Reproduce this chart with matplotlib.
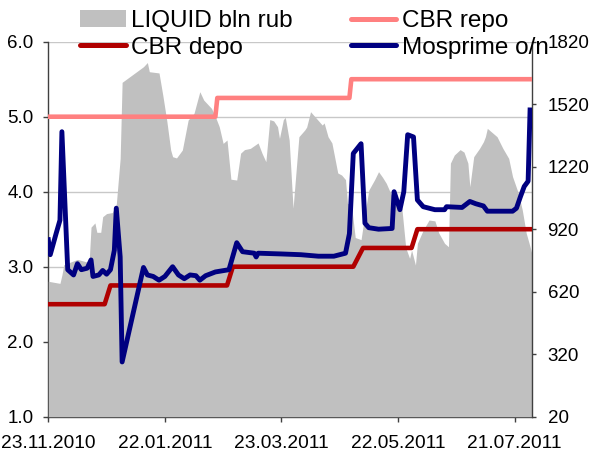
import matplotlib
matplotlib.use("Agg")
import matplotlib.pyplot as plt
import matplotlib.dates as mdates
from matplotlib.patches import Patch
from matplotlib.lines import Line2D
import pandas as pd

plt.rcParams['font.family'] = ['Liberation Sans', 'DejaVu Sans']

# ---------------- data ----------------
liq_dates = ["2010-11-23", "2010-11-26", "2010-11-29", "2010-11-30", "2010-12-01", "2010-12-08",
             "2010-12-14", "2010-12-15", "2010-12-17", "2010-12-18", "2010-12-20", "2010-12-21",
             "2010-12-23", "2010-12-26", "2010-12-28", "2010-12-29", "2010-12-30", "2010-12-31",
             "2011-01-11", "2011-01-13", "2011-01-14", "2011-01-19", "2011-01-21", "2011-01-23",
             "2011-01-25", "2011-01-26", "2011-01-28", "2011-01-31", "2011-02-03", "2011-02-06",
             "2011-02-09", "2011-02-11", "2011-02-15", "2011-02-17", "2011-02-19", "2011-02-21",
             "2011-02-23", "2011-02-25", "2011-02-28", "2011-03-02", "2011-03-04", "2011-03-07",
             "2011-03-11", "2011-03-13", "2011-03-15", "2011-03-17", "2011-03-19", "2011-03-21",
             "2011-03-22", "2011-03-24", "2011-03-25", "2011-03-27", "2011-03-29", "2011-04-01",
             "2011-04-04", "2011-04-05", "2011-04-07", "2011-04-10", "2011-04-13", "2011-04-14",
             "2011-04-16", "2011-04-18", "2011-04-21", "2011-04-23", "2011-04-25", "2011-04-26",
             "2011-04-28", "2011-04-30", "2011-05-03", "2011-05-05", "2011-05-07", "2011-05-10",
             "2011-05-12", "2011-05-14", "2011-05-16", "2011-05-19", "2011-05-22", "2011-05-24",
             "2011-05-26", "2011-05-28", "2011-05-29", "2011-05-31", "2011-06-01", "2011-06-04",
             "2011-06-07", "2011-06-10", "2011-06-12", "2011-06-15", "2011-06-17", "2011-06-18",
             "2011-06-20", "2011-06-23", "2011-06-25", "2011-06-27", "2011-06-28", "2011-06-30",
             "2011-07-03", "2011-07-05", "2011-07-06", "2011-07-07", "2011-07-10", "2011-07-12",
             "2011-07-15", "2011-07-18", "2011-07-20", "2011-07-23", "2011-07-25", "2011-07-27",
             "2011-07-29", "2011-07-30"]
liq_values = [670, 665, 660, 700, 750, 775,
              760, 930, 950, 905, 905, 980,
              995, 1000, 1040, 1150, 1260, 1625,
              1700, 1720, 1676, 1670, 1560, 1440,
              1300, 1268, 1262, 1300, 1444, 1476,
              1580, 1540, 1500, 1460, 1412, 1332,
              1348, 1160, 1156, 1285, 1302, 1308,
              1334, 1285, 1244, 1446, 1440, 1412,
              1356, 1446, 1457, 1348, 1021, 1364,
              1396, 1410, 1484, 1452, 1420, 1430,
              1364, 1334, 1190, 1180, 1158, 1044,
              1040, 880, 870, 996, 1108, 1158,
              1196, 1170, 1140, 1076, 1040, 1021,
              831, 780, 820, 748, 852, 916,
              964, 960, 902, 852, 836, 1237,
              1276, 1302, 1290, 1237, 1124, 1268,
              1308, 1340, 1364, 1404, 1380, 1364,
              1308, 1260, 1172, 1092, 1012, 902,
              836, 800]

repo_dates = ["2010-11-23", "2011-02-17", "2011-02-18", "2011-04-27", "2011-04-28", "2011-07-30"]
repo_values = [5.0, 5.0, 5.25, 5.25, 5.5, 5.5]

depo_dates = ["2010-11-23", "2010-12-22", "2010-12-25", "2011-02-23", "2011-02-26", "2011-04-29",
              "2011-05-04", "2011-05-29", "2011-06-01", "2011-07-30"]
depo_values = [2.5, 2.5, 2.75, 2.75, 3.0, 3.0, 3.25, 3.25, 3.5, 3.5]

mos_dates = ["2010-11-23", "2010-11-24", "2010-11-27", "2010-11-29", "2010-11-30", "2010-12-03",
             "2010-12-06", "2010-12-08", "2010-12-10", "2010-12-13", "2010-12-15", "2010-12-16",
             "2010-12-19", "2010-12-21", "2010-12-23", "2010-12-25", "2010-12-27", "2010-12-28",
             "2010-12-30", "2010-12-31", "2011-01-11", "2011-01-13", "2011-01-16", "2011-01-19",
             "2011-01-22", "2011-01-26", "2011-01-29", "2011-02-01", "2011-02-04", "2011-02-07",
             "2011-02-09", "2011-02-12", "2011-02-17", "2011-02-24", "2011-02-28", "2011-03-03",
             "2011-03-09", "2011-03-10", "2011-03-11", "2011-03-23", "2011-04-02", "2011-04-11",
             "2011-04-19", "2011-04-25", "2011-04-27", "2011-04-29", "2011-05-03", "2011-05-05",
             "2011-05-07", "2011-05-12", "2011-05-19", "2011-05-20", "2011-05-23", "2011-05-25",
             "2011-05-27", "2011-05-30", "2011-06-01", "2011-06-04", "2011-06-10", "2011-06-15",
             "2011-06-16", "2011-06-24", "2011-06-28", "2011-07-01", "2011-07-05", "2011-07-07",
             "2011-07-20", "2011-07-22", "2011-07-24", "2011-07-26", "2011-07-28", "2011-07-29"]
mos_values = [3.36, 3.16, 3.44, 3.62, 4.80, 2.96,
              2.89, 3.04, 2.96, 2.98, 3.09, 2.87,
              2.89, 2.95, 2.90, 2.96, 3.22, 3.78,
              3.13, 1.73, 2.99, 2.89, 2.87, 2.82,
              2.87, 3.00, 2.89, 2.84, 2.89, 2.88,
              2.82, 2.88, 2.93, 2.96, 3.32, 3.20,
              3.18, 3.13, 3.18, 3.17, 3.16, 3.14,
              3.14, 3.18, 3.44, 4.51, 4.64, 3.58,
              3.52, 3.50, 3.51, 4.00, 3.76, 4.00,
              4.76, 4.73, 3.89, 3.80, 3.76, 3.76,
              3.80, 3.79, 3.87, 3.84, 3.81, 3.74,
              3.74, 3.78, 3.93, 4.07, 4.14, 5.09]

x_ticks = ["2010-11-23", "2011-01-22", "2011-03-23", "2011-05-22", "2011-07-21"]
left_ticks = [1.0, 2.0, 3.0, 4.0, 5.0, 6.0]
right_ticks = [20, 320, 620, 920, 1220, 1520, 1820]

labels = ["LIQUID bln rub", "CBR depo", "CBR repo", "Mosprime o/n"]

# ---------------- styling ----------------
C_LIQ = "#C0C0C0"
C_REPO = "#FF8080"
C_DEPO = "#B00000"
C_MOS = "#000080"
SPINE = "#404040"
LW = 3.3

fig = plt.figure(figsize=(5.89, 4.57), dpi=100)
pos = [48.3 / 589, (457 - 416.7) / 457, (532 - 48.3) / 589, (416.7 - 41.7) / 457]
ax1 = fig.add_axes(pos)
ax2 = ax1.twinx()
ax3 = fig.add_axes(pos, sharex=ax1, sharey=ax1)
ax3.patch.set_visible(False)
ax3.axis("off")

ld = pd.to_datetime(liq_dates)
ax2.fill_between(ld, right_ticks[0], liq_values, color=C_LIQ, linewidth=0)

ax3.plot(pd.to_datetime(repo_dates), repo_values, color=C_REPO, lw=LW, solid_joinstyle="round")
ax3.plot(pd.to_datetime(depo_dates), depo_values, color=C_DEPO, lw=LW, solid_joinstyle="round")
ax3.plot(pd.to_datetime(mos_dates), mos_values, color=C_MOS, lw=LW + 0.2, solid_joinstyle="round")

ax1.set_xlim(pd.Timestamp("2010-11-23"), pd.Timestamp("2011-07-30"))
ax1.set_ylim(left_ticks[0], left_ticks[-1])
ax2.set_ylim(right_ticks[0], right_ticks[-1])

ax1.set_yticks(left_ticks)
ax1.set_yticklabels([f"{v:.1f}" for v in left_ticks])
ax2.set_yticks(right_ticks)
ax2.set_yticklabels([str(v) for v in right_ticks])
ax1.set_xticks(pd.to_datetime(x_ticks))
ax1.xaxis.set_major_formatter(mdates.DateFormatter("%d.%m.%Y"))

ax1.yaxis.grid(True, color="#C8C8C8", lw=1)
ax1.set_axisbelow(True)

for ax in (ax1, ax2):
    ax.spines["top"].set_visible(False)
    for s in ax.spines.values():
        s.set_color(SPINE)
        s.set_linewidth(1)
ax2.spines["left"].set_visible(False)
ax2.spines["bottom"].set_visible(False)
ax1.spines["right"].set_visible(False)

ax1.tick_params(axis="x", direction="out", length=3.6, width=1, color=SPINE, labelsize=13.8, pad=9.5)
ax1.tick_params(axis="y", direction="out", length=3.6, width=1, color=SPINE, labelsize=13.5, pad=7)
ax2.tick_params(axis="y", direction="out", length=3.2, width=1, color=SPINE, labelsize=13.5, pad=8)

handles = [Patch(facecolor=C_LIQ, edgecolor="none"),
           Line2D([], [], color=C_DEPO, lw=LW + 0.3, solid_capstyle="round"),
           Line2D([], [], color=C_REPO, lw=LW + 0.3, solid_capstyle="round"),
           Line2D([], [], color=C_MOS, lw=LW + 0.3, solid_capstyle="round")]
fig.legend(handles, labels, ncol=2, loc="upper left", bbox_to_anchor=(80 / 589, 1 - 10 / 457),
           frameon=False, fontsize=17.5, handlelength=1.88, handletextpad=0.23,
           columnspacing=2.38, labelspacing=0.2, borderpad=0, borderaxespad=0)

fig.savefig("out.png", dpi=100)
